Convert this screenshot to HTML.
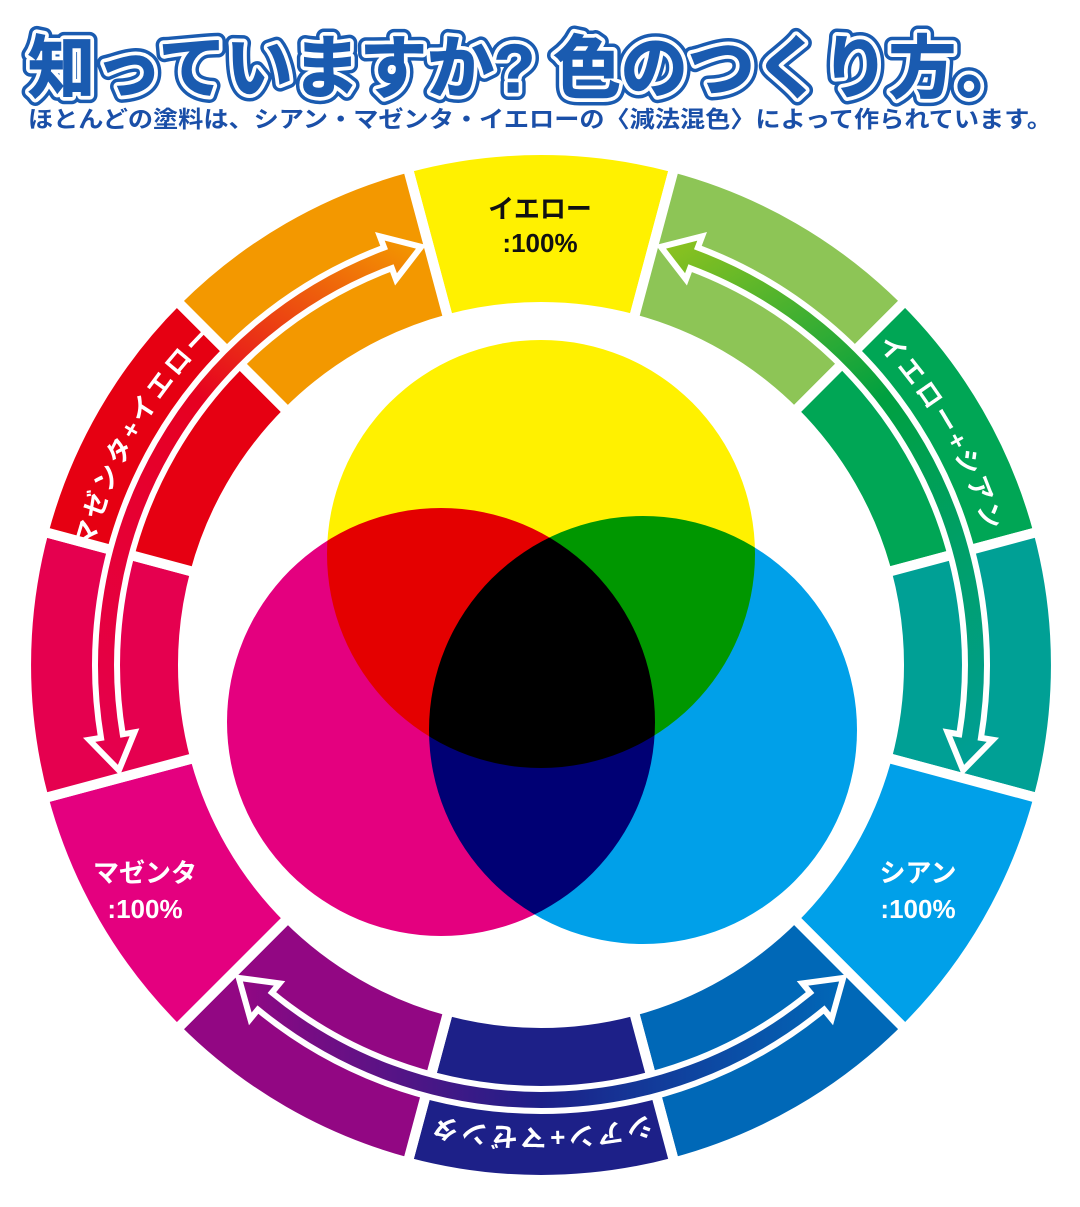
<!DOCTYPE html>
<html><head><meta charset="utf-8"><style>
html,body{margin:0;padding:0;background:#fff;}
svg{display:block;}
.c{mix-blend-mode:multiply;}
text{font-family:"Liberation Sans","Noto Sans CJK JP",sans-serif;font-weight:bold;}
</style></head><body>
<svg width="1080" height="1207" viewBox="0 0 1080 1207" xmlns="http://www.w3.org/2000/svg">
<defs>
<path id="seg" d="M407.7,167.6 A515,515 0 0 1 674.3,167.6 L633.7,319.2 A358,358 0 0 0 448.3,319.2 Z"/>
<path id="arr" d="M257.9,320.4 A446,446 0 0 1 824.1,320.4 L831.7,311.1 L843.2,352.1 L802.5,346.6 L810.1,337.4 A424,424 0 0 0 271.9,337.4 L279.5,346.6 L238.8,352.1 L250.3,311.1 Z"/>
<linearGradient id="gL" x1="0" x2="1" y1="0" y2="0"><stop offset="0" stop-color="#e5004f"/><stop offset="0.6" stop-color="#e60020"/><stop offset="1" stop-color="#f39800"/></linearGradient>
<linearGradient id="gR" x1="0" x2="1" y1="0" y2="0"><stop offset="0" stop-color="#8dc21f"/><stop offset="0.4" stop-color="#00a040"/><stop offset="1" stop-color="#009e96"/></linearGradient>
<linearGradient id="gB" x1="0" x2="1" y1="0" y2="0"><stop offset="0" stop-color="#0068b7"/><stop offset="0.5" stop-color="#1d2088"/><stop offset="1" stop-color="#920783"/></linearGradient>
<path id="tpL" d="M78.8,705.4 A464,464 0 0 1 345.0,244.5"/>
<path id="tpR" d="M737.0,244.5 A464,464 0 0 1 1003.2,705.4"/>
<path id="tpB" d="M699.7,1101.0 A464,464 0 0 1 382.3,1101.0"/>
</defs>

<!-- title -->
<g font-size="68">
<text x="28" y="92" textLength="995" lengthAdjust="spacingAndGlyphs" fill="#1a5bb0" stroke="#1a5bb0" stroke-width="16" stroke-linejoin="round">知っていますか? 色のつくり方。</text>
<text x="28" y="92" textLength="995" lengthAdjust="spacingAndGlyphs" fill="#fff" stroke="#fff" stroke-width="9" stroke-linejoin="round">知っていますか? 色のつくり方。</text>
<text x="28" y="92" textLength="995" lengthAdjust="spacingAndGlyphs" fill="#1a5bb0" stroke="#1a5bb0" stroke-width="1.5">知っていますか? 色のつくり方。</text>
</g>
<text x="28" y="127" font-size="23" textLength="1024" lengthAdjust="spacingAndGlyphs" fill="#1a4fa8">ほとんどの塗料は、シアン・マゼンタ・イエローの〈減法混色〉によって作られています。</text>

<!-- ring segments -->
<g stroke="#fff" stroke-width="10" stroke-linejoin="miter">
<use href="#seg" fill="#fff100"/>
<use href="#seg" fill="#8dc556" transform="rotate(30 541 665)"/>
<use href="#seg" fill="#00a655" transform="rotate(60 541 665)"/>
<use href="#seg" fill="#00a095" transform="rotate(90 541 665)"/>
<use href="#seg" fill="#00a0e9" transform="rotate(120 541 665)"/>
<use href="#seg" fill="#0068b7" transform="rotate(150 541 665)"/>
<use href="#seg" fill="#1d2088" transform="rotate(180 541 665)"/>
<use href="#seg" fill="#920783" transform="rotate(210 541 665)"/>
<use href="#seg" fill="#e4007f" transform="rotate(240 541 665)"/>
<use href="#seg" fill="#e5004f" transform="rotate(270 541 665)"/>
<use href="#seg" fill="#e60012" transform="rotate(300 541 665)"/>
<use href="#seg" fill="#f39800" transform="rotate(330 541 665)"/>
</g>

<!-- arrows -->
<g stroke="#fff" stroke-width="6" stroke-linejoin="miter">
<use href="#arr" fill="url(#gL)" transform="rotate(-60 541 665)"/>
<use href="#arr" fill="url(#gR)" transform="rotate(60 541 665)"/>
<use href="#arr" fill="url(#gB)" transform="rotate(180 541 665)"/>
</g>

<!-- arc labels -->
<g font-size="26" fill="#fff" letter-spacing="3">
<text><textPath href="#tpL" startOffset="50%" text-anchor="middle">マゼンタ+イエロー</textPath></text>
<text><textPath href="#tpR" startOffset="50%" text-anchor="middle">イエロー+シアン</textPath></text>
<text><textPath href="#tpB" startOffset="50%" text-anchor="middle">シアン+マゼンタ</textPath></text>
</g>

<!-- labels -->
<g font-size="26" text-anchor="middle">
<text x="540" y="218" fill="#111">イエロー</text>
<text x="540" y="252" fill="#111">:100%</text>
<text x="145" y="882" fill="#fff">マゼンタ</text>
<text x="145" y="918" fill="#fff">:100%</text>
<text x="918" y="882" fill="#fff">シアン</text>
<text x="918" y="918" fill="#fff">:100%</text>
</g>

<!-- circles -->
<g>
<circle class="c" cx="541" cy="554" r="214" fill="#fff100"/>
<circle class="c" cx="441" cy="722" r="214" fill="#e4007f"/>
<circle class="c" cx="643" cy="730" r="214" fill="#00a0e9"/>
</g>
</svg>
</body></html>
